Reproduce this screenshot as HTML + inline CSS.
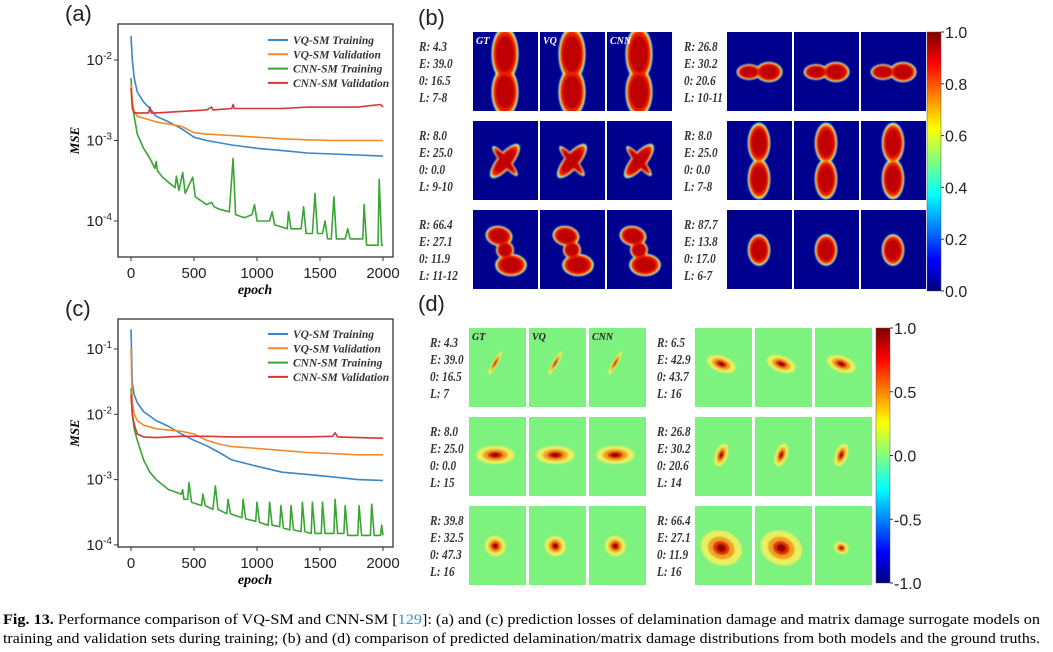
<!DOCTYPE html>
<html><head><meta charset="utf-8"><style>
body{margin:0;background:#fff;}
svg{display:block;font-family:"Liberation Sans",sans-serif;}
.ser{font-family:"Liberation Serif",serif;font-weight:bold;font-style:italic;}
</style></head><body>
<svg id="fig" width="1053" height="652" viewBox="0 0 1053 652">
<defs>
<linearGradient id="jet" x1="0" y1="1" x2="0" y2="0">
<stop offset="0" stop-color="#00007f"/><stop offset="0.12" stop-color="#0000ff"/><stop offset="0.37" stop-color="#00ffff"/><stop offset="0.5" stop-color="#80ff80"/><stop offset="0.63" stop-color="#ffff00"/><stop offset="0.88" stop-color="#ff0000"/><stop offset="1" stop-color="#7f0000"/>
</linearGradient>
<filter id="bl" x="-30%" y="-30%" width="160%" height="160%"><feGaussianBlur stdDeviation="0.9"/></filter>
</defs>
<g id="chartA"></g>
<g id="chartC"></g>
<g id="panelB"></g>
<g id="panelD"></g>
<text x="3" y="624" font-family="Liberation Serif,serif" font-size="14.2" textLength="1037" lengthAdjust="spacingAndGlyphs"><tspan font-weight="bold">Fig. 13.</tspan> Performance comparison of VQ-SM and CNN-SM [<tspan fill="#3a8fc8">129</tspan>]: (a) and (c) prediction losses of delamination damage and matrix damage surrogate models on</text>
<text x="3" y="643" font-family="Liberation Serif,serif" font-size="14.2" textLength="1037" lengthAdjust="spacingAndGlyphs">training and validation sets during training; (b) and (d) comparison of predicted delamination/matrix damage distributions from both models and the ground truths.</text>
</svg>
<script>
// ---- data: panel (a) ----
const epA_vqT=[0,10,25,50,100,150,200,300,400,500,600,800,1000,1200,1400,1600,1800,2000];
const vA_vqT=[0.02,0.01,0.006,0.004,0.003,0.0025,0.002,0.0017,0.0014,0.0011,0.001,0.00088,0.0008,0.00075,0.0007,0.00068,0.00066,0.00064];
const epA_vqV=[0,10,25,50,100,200,300,400,500,600,800,1000,1200,1400,1600,1800,2000];
const vA_vqV=[0.005,0.003,0.0023,0.002,0.0019,0.0017,0.0016,0.0015,0.00125,0.0012,0.00115,0.0011,0.00105,0.00102,0.001,0.001,0.001];
const epA_cnV=[0,10,25,50,100,140,150,160,200,400,600,640,650,800,810,820,1000,1200,1400,1600,1800,1980,2000];
const vA_cnV=[0.0045,0.0025,0.0022,0.0022,0.0022,0.0022,0.0026,0.0022,0.0022,0.0023,0.0024,0.0026,0.0024,0.0025,0.0028,0.0025,0.0025,0.0025,0.0026,0.0026,0.0026,0.0028,0.0026];
const epA_cnT=[0,10,25,50,100,150,190,200,210,250,300,350,360,380,410,430,490,510,600,640,660,700,780,810,830,900,960,980,1000,1100,1120,1140,1240,1250,1270,1350,1370,1390,1440,1460,1480,1520,1540,1560,1590,1610,1630,1700,1720,1740,1840,1850,1870,1960,1970,1990,2000];
const vA_cnT=[0.006,0.003,0.002,0.0012,0.0008,0.0006,0.00045,0.00055,0.00042,0.00035,0.0003,0.00026,0.00036,0.00024,0.0004,0.00022,0.00035,0.0002,0.00016,0.00017,0.00015,0.00014,0.00013,0.0006,0.00012,0.00011,0.00012,0.00016,0.0001,0.0001,0.00013,0.00009,0.00008,0.00013,0.00008,0.00008,0.00015,0.00007,0.00007,0.00022,0.00007,0.00007,0.0001,0.00006,0.00006,0.0002,0.00006,0.00006,0.00008,0.00006,0.00006,0.00016,0.00005,0.00005,0.00033,0.00005,0.00005];
// ---- data: panel (c) ----
const epC_vqT=[0,10,25,50,100,200,300,400,500,600,700,800,1000,1200,1400,1600,1800,2000];
const vC_vqT=[0.2,0.03,0.02,0.015,0.011,0.008,0.0065,0.005,0.004,0.0033,0.0026,0.002,0.0016,0.0013,0.0012,0.0011,0.001,0.00097];
const epC_vqV=[0,10,25,50,100,200,400,500,600,700,800,1000,1200,1400,1600,1800,2000];
const vC_vqV=[0.1,0.015,0.01,0.008,0.0068,0.006,0.0055,0.005,0.004,0.0035,0.0032,0.003,0.0028,0.0026,0.0025,0.0024,0.0024];
const epC_cnV=[0,10,25,50,100,200,400,600,800,1000,1200,1400,1600,1620,1640,1800,2000];
const vC_cnV=[0.02,0.01,0.007,0.005,0.0045,0.0044,0.0046,0.0046,0.0045,0.0045,0.0045,0.0045,0.0046,0.0052,0.0045,0.0044,0.0043];
const epC_cnT=[0,10,25,50,100,150,200,300,400,410,420,450,460,480,560,570,590,650,670,690,760,770,790,880,890,910,990,1000,1020,1090,1100,1120,1180,1190,1210,1260,1270,1290,1350,1360,1380,1430,1440,1460,1510,1520,1540,1610,1620,1640,1690,1700,1720,1800,1810,1830,1900,1910,1930,1980,1990,2000];
const vC_cnT=[0.025,0.01,0.006,0.004,0.002,0.0013,0.001,0.0007,0.0006,0.0007,0.0005,0.0005,0.0009,0.00045,0.0004,0.0006,0.0004,0.00035,0.0008,0.00035,0.0003,0.0005,0.0003,0.00026,0.0005,0.00025,0.00023,0.00045,0.00022,0.0002,0.00045,0.0002,0.00019,0.0004,0.00018,0.00017,0.0004,0.00017,0.00016,0.00045,0.00016,0.00015,0.00045,0.00015,0.00015,0.00045,0.00015,0.00015,0.0005,0.00015,0.00015,0.0004,0.00014,0.00014,0.0004,0.00014,0.00014,0.00042,0.00014,0.00014,0.0002,0.00014];
const xTicks=[0,500,1000,1500,2000];
const legendLabels=["VQ-SM Training","VQ-SM Validation","CNN-SM Training","CNN-SM Validation"];
const colors=["#3b86c6","#f28a2a","#3aa435","#d6363a"];

const NS="http://www.w3.org/2000/svg";
function mk(parent,tag,attrs,text){const e=document.createElementNS(NS,tag);for(const k in attrs)e.setAttribute(k,attrs[k]);if(text!==undefined)e.textContent=text;parent.appendChild(e);return e;}

function lineChart(g,cfg){
  const x=e=>131+e*252/2000;
  const y=v=>cfg.y0-(Math.log10(v)-cfg.d0)*cfg.ppd;
  const box=mk(g,'rect',{x:118,y:cfg.top,width:275,height:cfg.bot-cfg.top,fill:'none',stroke:'#333','stroke-width':1.3});
  
  xTicks.forEach(t=>{const l=mk(g,'line',{x1:x(t),x2:x(t),y1:cfg.bot,y2:cfg.bot+4,stroke:'#333'});
    
    const tx=mk(g,'text',{x:x(t),y:cfg.bot+21,'font-size':15,'text-anchor':'middle',fill:'#222'},t);
    });
  cfg.yt.forEach(p=>{const yy=y(Math.pow(10,p));const l=mk(g,'line',{x1:114,x2:118,y1:yy,y2:yy,stroke:'#333'});
    
    const tx=mk(g,'text',{x:112,y:yy+5,'font-size':15,'text-anchor':'end',fill:'#222'});
    
    mk(tx,'tspan',{},'10');mk(tx,'tspan',{dy:-6,'font-size':10},String(p));});
  const xl=mk(g,'text',{x:255,y:cfg.bot+37,'font-size':14,'text-anchor':'middle',class:'ser'},'epoch');
  
  const yl=mk(g,'text',{x:0,y:0,'font-size':13,'text-anchor':'middle',class:'ser',transform:`translate(79,${(cfg.top+cfg.bot)/2}) rotate(-90)`},'MSE');
  
  const pl=mk(g,'text',{x:65,y:cfg.top-3,'font-size':22,fill:'#222'},cfg.label);
  
  const order=[2,0,1,3];
  order.forEach(i=>{const s=cfg.series[i];
    const d=s[0].map((e,j)=>(j?'L':'M')+x(e).toFixed(1)+','+y(s[1][j]).toFixed(1)).join('');
    const p=mk(g,'path',{d:d,fill:'none',stroke:colors[i],'stroke-width':1.6,'stroke-linejoin':'round'});
    });
  legendLabels.forEach((t,i)=>{const yy=cfg.leg+i*14.3;
    const l=mk(g,'line',{x1:268,x2:288,y1:yy,y2:yy,stroke:colors[i],'stroke-width':2});
    
    const tx=mk(g,'text',{x:293,y:yy+4,'font-size':11.5,class:'ser',fill:'#333'},t);
    });
}
lineChart(document.getElementById('chartA'),{top:24,bot:257,y0:60,d0:-2,ppd:80.5,yt:[-2,-3,-4],label:'(a)',leg:40,
  series:[[epA_vqT,vA_vqT],[epA_vqV,vA_vqV],[epA_cnT,vA_cnT],[epA_cnV,vA_cnV]]});
lineChart(document.getElementById('chartC'),{top:319,bot:547,y0:349,d0:-1,ppd:65.3,yt:[-1,-2,-3,-4],label:'(c)',leg:334,
  series:[[epC_vqT,vC_vqT],[epC_vqV,vC_vqV],[epC_cnT,vC_cnT],[epC_cnV,vC_cnV]]});

// ---- image grids ----
const shapesB=[
 [[32,22,12,24,0],[32,60,12,22,0]],
 [[22,40,11,7,0],[42,40,12,9,0]],
 [[32,40,7,19,40],[32,40,4,17,-40]],
 [[32,22,10,18,0],[32,58,10,18,0]],
 [[26,26,12,9,10],[38,55,14,10,0],[32,40,8,8,0]],
 [[32,40,10,14,0]]
];
const shapesD=[
 [[30,35,3,13,30]],
 [[30,36,17,8,20]],
 [[30,38,22,9,0]],
 [[30,38,7,12,20]],
 [[30,40,12,10,30]],
 [[30,42,24,17,20]]
];
const textsB=[["R: 4.3","E: 39.0","0: 16.5","L: 7-8"],["R: 26.8","E: 30.2","0: 20.6","L: 10-11"],["R: 8.0","E: 25.0","0: 0.0","L: 9-10"],["R: 8.0","E: 25.0","0: 0.0","L: 7-8"],["R: 66.4","E: 27.1","0: 11.9","L: 11-12"],["R: 87.7","E: 13.8","0: 17.0","L: 6-7"]];
const textsD=[["R: 4.3","E: 39.0","0: 16.5","L: 7"],["R: 6.5","E: 42.9","0: 43.7","L: 16"],["R: 8.0","E: 25.0","0: 0.0","L: 15"],["R: 26.8","E: 30.2","0: 20.6","L: 14"],["R: 39.8","E: 32.5","0: 47.3","L: 16"],["R: 66.4","E: 27.1","0: 11.9","L: 16"]];

function grid(g,c){
  const pl=mk(g,'text',{x:418,y:c.lblY,'font-size':22,fill:'#222'},c.label);
  
  for(let k=0;k<6;k++){const row=Math.floor(k/2),side=k%2;
    const ty=c.rowY+row*89;
    c.texts[k].forEach((t,i)=>{const tx=mk(g,'text',{x:0,y:ty+19+i*17,'font-size':14,class:'ser',fill:'#333',transform:`translate(${c.txtX[side]},0) scale(0.8,1)`},t);
      });
    for(let m=0;m<3;m++){const x0=c.tileX[side]+m*c.step,sc=c.tw/65;
      const small=(c.label=='(d)'&&k==5&&m==2)?0.35:1;
      const tg=mk(g,'svg',{x:x0,y:ty,width:c.tw,height:79,overflow:'hidden'});
      
      mk(tg,'rect',{x:0,y:0,width:c.tw,height:79,fill:c.bg});
      const bg=mk(tg,'g',{filter:'url(#bl)'});
      const shp=c.shapes[k];
      c.layers.forEach(([f,col])=>shp.forEach(s=>mk(bg,'ellipse',{cx:s[0]*sc,cy:s[1],rx:s[2]*f*sc*small,ry:s[3]*f*small,fill:col,transform:`rotate(${s[4]} ${s[0]*sc} ${s[1]})`})));
      if(row==0&&side==0){const lt=mk(tg,'text',{x:3,y:12,'font-size':10,class:'ser',fill:c.tcol},["GT","VQ","CNN"][m]);
        }
    }}
  const cb=mk(g,'rect',{x:c.cb[0],y:c.cb[1],width:14,height:c.cb[2]-c.cb[1],fill:'url(#jet)',stroke:'#555','stroke-width':0.5});
  
  c.cbt.forEach((t,i)=>{const yy=c.cb[1]+(c.cb[2]-c.cb[1])*i/(c.cbt.length-1);
    mk(g,'line',{x1:c.cb[0]+14,x2:c.cb[0]+17,y1:yy,y2:yy,stroke:'#333'});
    const tx=mk(g,'text',{x:c.cb[0]+18,y:yy+6,'font-size':16,fill:'#222'},t);
    });
}
grid(document.getElementById('panelB'),{label:'(b)',lblY:25,rowY:32,txtX:[419,684],tileX:[473,727],step:67,tw:65,bg:'#00008f',
  shapes:shapesB,texts:textsB,tcol:'#fff',layers:[[1.14,'#20c8ff'],[1.08,'#e8f040'],[1.02,'#ff7a00'],[0.94,'#e81a00'],[0.75,'#c00000']],
  cb:[927,32,291],cbt:["1.0","0.8","0.6","0.4","0.2","0.0"]});
grid(document.getElementById('panelD'),{label:'(d)',lblY:311,rowY:328,txtX:[430,657],tileX:[469,695],step:60,tw:57,bg:'#7ef27e',
  shapes:shapesD,texts:textsD,tcol:'#222',layers:[[1.0,'#e6f060'],[0.65,'#f2a020'],[0.4,'#e03000'],[0.22,'#900000']],
  cb:[876,328,583],cbt:["1.0","0.5","0.0","-0.5","-1.0"]});
</script>
</body></html>
